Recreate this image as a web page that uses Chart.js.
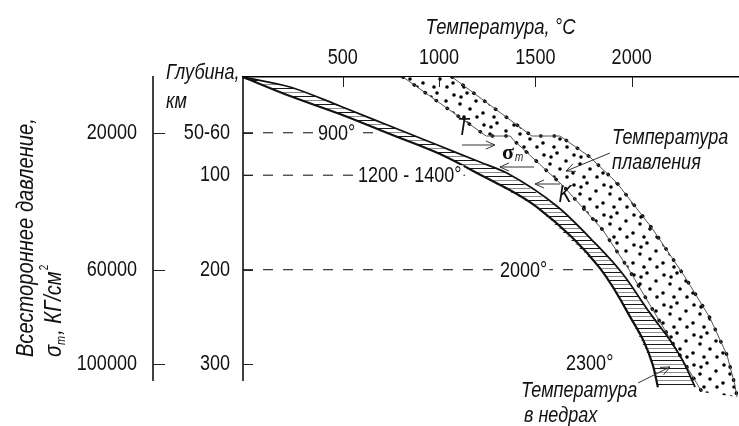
<!DOCTYPE html>
<html lang="ru">
<head>
<meta charset="utf-8">
<title>Температура в недрах и температура плавления</title>
<script src="https://cdn.jsdelivr.net/npm/chart.js@4.4.1/dist/chart.umd.min.js"></script>
<style>
  html, body { margin: 0; padding: 0; background: #fff; }
  #wrap { width: 739px; height: 426px; }
</style>
</head>
<body>
<div id="wrap"><canvas id="chart" width="739" height="426"></canvas></div>
<script>
// axes (temperature on top, depth / pressure on the left)
const tempTicks = [500, 1000, 1500, 2000];
const depthTicks = [55, 100, 200, 300];
const depthLabels = ['50-60', '100', '200', '300'];
const pressureTicks = [55, 200, 300];
const pressureLabels = ['20000', '60000', '100000'];
const tempMin = -18;
const depthAxisEnd = 318;

// temperature in the interior (hatched band), T in °C against depth in km
const innerLowT = [-18, 226, 485, 745, 1005, 1197, 1508, 1835, 1981, 2110, 2136];
const innerLowDepth = [-4, 16.1, 35.2, 56.4, 77.6, 97.7, 133.7, 198.3, 246, 301, 324.4];
const innerHighT = [-18, 226, 485, 745, 1005, 1212, 1352, 1617, 1794, 1950, 2095, 2209, 2277, 2329];
const innerHighDepth = [-4, 6.6, 26.7, 47.9, 69.1, 86, 97.7, 133.7, 168.6, 203.6, 246, 277.7, 301, 324.4];

// melting temperature (dotted band)
const meltLowT = [813, 1245, 1370, 1385, 1645, 1850, 1980, 2120, 2250, 2365];
const meltLowDepth = [-4, 58.5, 58.5, 62.5, 111.5, 158, 198, 246, 290.5, 329.5];
const meltHighT = [1067, 1482, 1628, 1783, 1924, 2105, 2277, 2407, 2495, 2536, 2547];
const meltHighDepth = [-4, 58.5, 58.5, 80.7, 108.3, 155.9, 207.8, 251.3, 290.5, 322.2, 334.9];

// dashed levels
const levelDepths = [55, 100, 200];
const levelEndT = [700, 1135, 1800];
const levelLabels = ['900°', '1200 - 1400°', '2000°'];
const levelLabelT = [371, 579, 1316];

const SANS = "'Liberation Sans', Arial, sans-serif";
const NARROW = 0.82; // the figure is set in a condensed face
const INK = '#111';

const pts = (ts, ds) => ts.map((t, i) => ({x: t, y: ds[i]}));

function hatchPattern() {
    const c = document.createElement('canvas');
    c.width = 8; c.height = 8;
    const g = c.getContext('2d');
    g.fillStyle = '#fff'; g.fillRect(0, 0, 8, 8);
    g.fillStyle = '#1a1a1a'; g.fillRect(0, 0, 8, 1);
    g.fillStyle = '#8c8c8c'; g.fillRect(0, 4, 8, 1);
    return g.createPattern(c, 'repeat');
}

function dotPattern() {
    const c = document.createElement('canvas');
    c.width = 30; c.height = 30;
    const g = c.getContext('2d');
    g.fillStyle = '#fff'; g.fillRect(0, 0, 30, 30);
    g.fillStyle = '#000';
    [[4, 5], [17, 3], [26, 11], [10, 14], [20, 19], [3, 23], [14, 27], [27, 27], [11, 7]].forEach(([a, b]) => {
        g.beginPath(); g.arc(a, b, 1.8, 0, Math.PI * 2); g.fill();
    });
    return g.createPattern(c, 'repeat');
}

const innerPoly = pts(innerLowT, innerLowDepth).concat(pts(innerHighT, innerHighDepth).reverse());
const meltPoly = pts(meltLowT, meltLowDepth).concat(pts(meltHighT, meltHighDepth).reverse());

const line = (data, extra) => Object.assign({
    data, borderColor: '#111', borderWidth: 1.5, pointRadius: 0, fill: false, tension: 0
}, extra);

const datasets = [
    line(pts(innerLowT, innerLowDepth), {borderWidth: 2.2, cubicInterpolationMode: 'monotone', order: 1}),
    line(pts(innerHighT, innerHighDepth), {borderWidth: 1.8, cubicInterpolationMode: 'monotone', order: 1}),
    line(pts(meltLowT, meltLowDepth), {borderColor: '#555', borderWidth: 1, order: 2}),
    line(pts(meltHighT, meltHighDepth), {borderColor: '#555', borderWidth: 1, order: 2}),
    line(pts(meltLowT, meltLowDepth), {borderColor: '#000', borderWidth: 3.4, borderDash: [0.5, 13], borderCapStyle: 'round', order: 2}),
    line(pts(meltHighT, meltHighDepth), {borderColor: '#000', borderWidth: 3.4, borderDash: [0.5, 13], borderCapStyle: 'round', order: 2}),
    ...levelDepths.map((d, i) => line([{x: tempMin, y: d}, {x: levelEndT[i], y: d}],
        {borderColor: '#333', borderWidth: 1.2, borderDash: [10, 10], order: 3})),
    line(innerPoly, {borderColor: 'rgba(0,0,0,0)', borderWidth: 0, fill: 'shape', backgroundColor: hatchPattern(), order: 5}),
    line(meltPoly, {borderColor: 'rgba(0,0,0,0)', borderWidth: 0, fill: 'shape', backgroundColor: dotPattern(), order: 5})
];

// annotations, placed in data units (°C, km)
const notes = [
    {text: '2300°', t: 1659, d: 300},
    {text: 'T', t: 1124, d: 50, italic: true, align: 'center', size: 24},
    {text: 'K', t: 1654, d: 121, italic: true, align: 'center', size: 24},
    {text: 'Температура', t: 1898, d: 60.6, italic: true},
    {text: 'плавления', t: 1898, d: 87, italic: true},
    {text: 'Температура', t: 1425, d: 328.5, italic: true},
    {text: 'в недрах', t: 1441, d: 355, italic: true}
];
const arrows = [
    {from: [1119, 68], to: [1290, 68]},
    {from: [1493, 91.3], to: [1316, 91.3]},
    {from: [1628, 109.3], to: [1498, 109.3]},
    {from: [1887, 76.5], to: [1659, 95.6]},
    {from: [2033, 320], to: [2199, 303]}
];

// condensed text: returns drawn width
function say(ctx, str, x, y, o = {}) {
    const sq = o.squeeze || NARROW;
    ctx.save();
    ctx.translate(x, y);
    if (o.rotate) ctx.rotate(o.rotate);
    ctx.scale(sq, 1);
    ctx.font = `${o.italic ? 'italic ' : ''}${o.bold ? 'bold ' : ''}${o.size || 22}px ${o.family || SANS}`;
    ctx.textAlign = o.align || 'left';
    ctx.textBaseline = o.baseline || 'middle';
    ctx.fillStyle = o.color || INK;
    ctx.fillText(str, 0, 0);
    const w = ctx.measureText(str).width * sq;
    ctx.restore();
    return w;
}

function measure(ctx, str, o = {}) {
    ctx.save();
    ctx.font = `${o.italic ? 'italic ' : ''}${o.size || 22}px ${o.family || SANS}`;
    const w = ctx.measureText(str).width * NARROW;
    ctx.restore();
    return w;
}

function arrow(ctx, x1, y1, x2, y2) {
    const a = Math.atan2(y2 - y1, x2 - x1);
    ctx.beginPath();
    ctx.moveTo(x1, y1); ctx.lineTo(x2, y2);
    ctx.moveTo(x2 - 10 * Math.cos(a - 0.42), y2 - 10 * Math.sin(a - 0.42));
    ctx.lineTo(x2, y2);
    ctx.lineTo(x2 - 10 * Math.cos(a + 0.42), y2 - 10 * Math.sin(a + 0.42));
    ctx.stroke();
}

const figureNotes = {
    id: 'figureNotes',
    afterDatasetsDraw(chart) {
        const {ctx, scales: {x, y}} = chart;
        const at = (t, d) => [x.getPixelForValue(t), y.getPixelForValue(d)];
        levelDepths.forEach((d, i) => {
            const [lx, ly] = at(levelLabelT[i], d);
            const w = measure(ctx, levelLabels[i]);
            ctx.fillStyle = '#fff';
            ctx.fillRect(lx - 2, ly - 10, w + 4, 20);
            say(ctx, levelLabels[i], lx, ly + 1);
        });
        notes.forEach(n => {
            const [lx, ly] = at(n.t, n.d);
            say(ctx, n.text, lx, ly, {italic: n.italic, align: n.align, size: n.size});
        });
        // sigma with subscript
        const [sx, sy] = at(1327, 76.5);
        const sw = say(ctx, 'σ', sx, sy, {family: "'Liberation Serif', serif", size: 22, bold: true, squeeze: 1});
        say(ctx, 'm', sx + sw + 1, sy + 5, {italic: true, size: 12});

        ctx.save();
        ctx.strokeStyle = '#333';
        ctx.lineWidth = 1;
        arrows.forEach(a => {
            const [x1, y1] = at(...a.from);
            const [x2, y2] = at(...a.to);
            arrow(ctx, x1, y1, x2, y2);
        });
        ctx.restore();
    },
    afterDraw(chart) {
        const {ctx, chartArea, scales: {x, y, p}} = chart;
        const top = y.getPixelForValue(-4);
        const bottom = y.getPixelForValue(depthAxisEnd);
        ctx.save();
        // vertical axis lines, stopping at 318 km
        ctx.strokeStyle = '#000';
        ctx.lineWidth = 1.5;
        [y.right, p.right].forEach(ax => {
            ctx.beginPath(); ctx.moveTo(ax, top - 1); ctx.lineTo(ax, bottom); ctx.stroke();
        });
        // inward tick marks
        ctx.lineWidth = 1;
        ctx.strokeStyle = '#222';
        x.ticks.forEach(tk => {
            const tx = Math.round(x.getPixelForValue(tk.value)) + 0.5;
            ctx.beginPath(); ctx.moveTo(tx, chartArea.top); ctx.lineTo(tx, chartArea.top + 10); ctx.stroke();
        });
        y.ticks.forEach(tk => {
            const ty = Math.round(y.getPixelForValue(tk.value)) + 0.5;
            ctx.beginPath(); ctx.moveTo(y.right, ty); ctx.lineTo(y.right + 10, ty); ctx.stroke();
        });
        p.ticks.forEach(tk => {
            const ty = Math.round(p.getPixelForValue(tk.value)) + 0.5;
            ctx.beginPath(); ctx.moveTo(p.right, ty); ctx.lineTo(p.right + 12, ty); ctx.stroke();
        });
        ctx.restore();

        // tick labels
        x.ticks.forEach(tk => say(ctx, String(tk.value), x.getPixelForValue(tk.value), 58, {align: 'center'}));
        y.ticks.forEach(tk => say(ctx, depthLabels[depthTicks.indexOf(tk.value)], y.right - 13, y.getPixelForValue(tk.value), {align: 'right'}));
        p.ticks.forEach(tk => say(ctx, pressureLabels[pressureTicks.indexOf(tk.value)], p.right - 16, p.getPixelForValue(tk.value), {align: 'right'}));

        // titles
        say(ctx, 'Температура, °C', (chartArea.left + chartArea.right) / 2 + 10, 28, {italic: true, align: 'center', size: 22.5});
        say(ctx, 'Глубина,', y.left + 13, 73, {italic: true});
        say(ctx, 'км', y.left + 13, 102, {italic: true});

        const rot = -Math.PI / 2;
        const y0 = bottom - 24;
        const tt = {italic: true, rotate: rot, baseline: 'alphabetic', size: 24, squeeze: 0.84};
        say(ctx, 'Всестороннее давление,', 33, y0, tt);
        // second line, written along the rotated direction
        let off = 0;
        off += say(ctx, 'σ', 61, y0 - off, tt);
        off += say(ctx, 'm', 65, y0 - off, Object.assign({}, tt, {size: 13})) + 1;
        off += say(ctx, ', КГ/см', 61, y0 - off, tt);
        say(ctx, '2', 48, y0 - off - 1, Object.assign({}, tt, {size: 12, italic: false}));
    }
};

new Chart(document.getElementById('chart'), {
    type: 'line',
    data: {datasets},
    plugins: [figureNotes],
    options: {
        responsive: false,
        devicePixelRatio: 1,
        animation: false,
        events: [],
        layout: {padding: {left: 0, top: 0, right: 1, bottom: 26}},
        plugins: {legend: {display: false}, tooltip: {enabled: false}},
        scales: {
            x: {
                type: 'linear', position: 'top', min: tempMin, max: 2552, z: 1,
                afterBuildTicks: s => { s.ticks = tempTicks.map(v => ({value: v})); },
                afterFit: s => { s.height = 77; },
                grid: {display: false, drawTicks: false},
                border: {display: true, color: '#000', width: 1.5},
                ticks: {display: false}
            },
            y: {
                type: 'linear', position: 'left', reverse: true, min: -4, max: 338, weight: 0,
                afterBuildTicks: s => { s.ticks = depthTicks.map(v => ({value: v})); },
                afterFit: s => { s.width = 90; },
                grid: {display: false, drawTicks: false},
                border: {display: false},
                ticks: {display: false}
            },
            p: {
                type: 'linear', position: 'left', reverse: true, min: -4, max: 338, weight: 1,
                afterBuildTicks: s => { s.ticks = pressureTicks.map(v => ({value: v})); },
                afterFit: s => { s.width = 153; },
                grid: {display: false, drawTicks: false},
                border: {display: false},
                ticks: {display: false}
            }
        }
    }
});
</script>
</body>
</html>
